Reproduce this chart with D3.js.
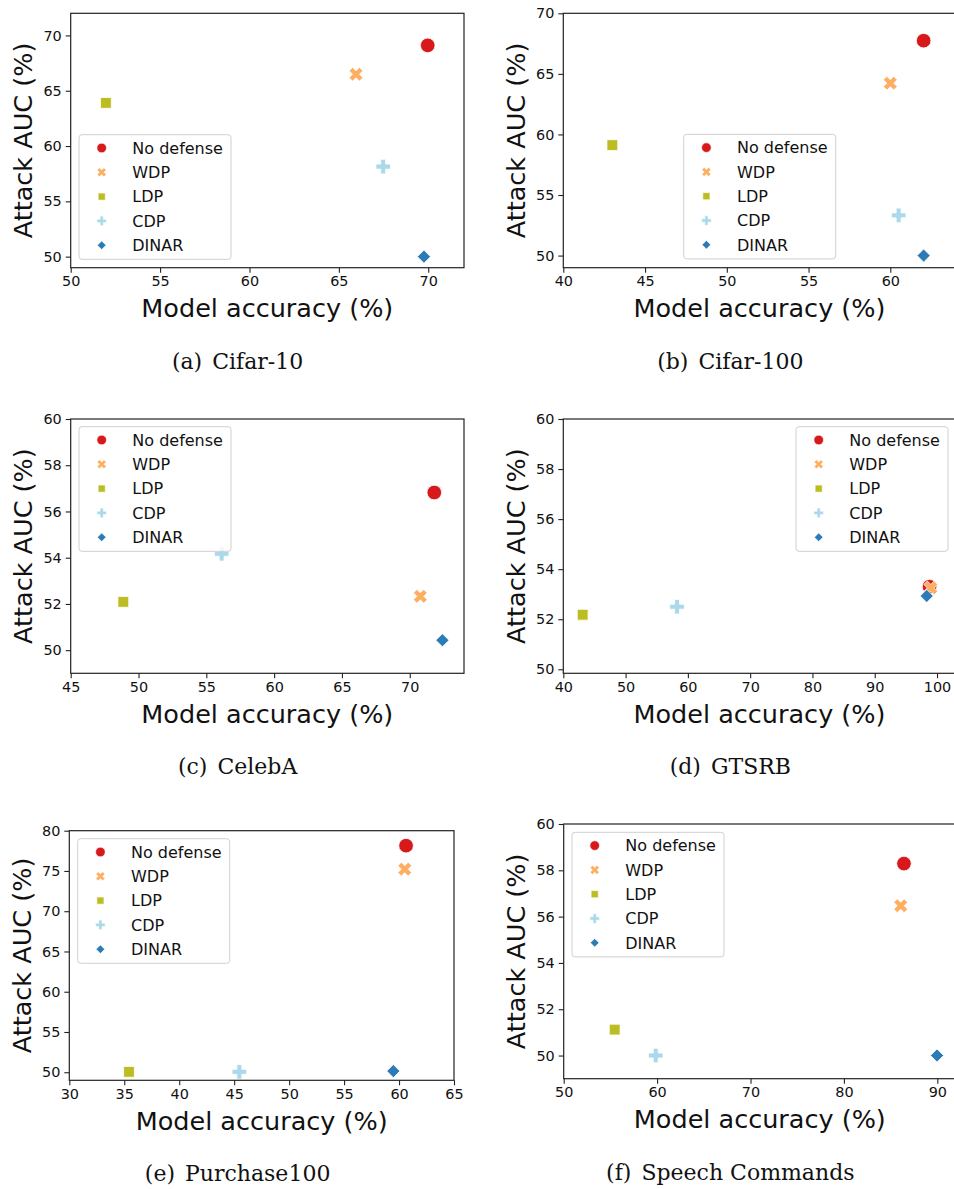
<!DOCTYPE html>
<html>
<head>
<meta charset="utf-8">
<script src="https://cdn.jsdelivr.net/npm/d3@7/dist/d3.min.js"></script>
<style>
  html, body { margin: 0; padding: 0; background: #fff; }
  svg { display: block; }
</style>
</head>
<body>
<svg id="chart" width="954" height="1189"></svg>
<script>
// ---------- data ----------
const methods = ["No defense", "WDP", "LDP", "CDP", "DINAR"];
const methodColors = ["#d7191c", "#fdae61", "#bcbd22", "#abd9e9", "#2c7bb6"];
const methodShapes = ["circle", "x", "square", "plus", "diamond"];

const captionTags = ["(a)", "(b)", "(c)", "(d)", "(e)", "(f)"];
const captionNames = ["Cifar-10", "Cifar-100", "CelebA", "GTSRB", "Purchase100", "Speech Commands"];

const cifar10Acc = [69.97, 65.96, 51.97, 67.48, 69.76];
const cifar10Auc = [69.1, 66.49, 63.9, 58.14, 50.0];
const cifar100Acc = [62.04, 60.0, 43.0, 60.51, 62.04];
const cifar100Auc = [67.74, 64.23, 59.12, 53.32, 50.0];
const celebaAcc = [71.81, 70.78, 48.88, 56.13, 72.41];
const celebaAuc = [56.82, 52.33, 52.09, 54.17, 50.43];
const gtsrbAcc = [98.8, 99.0, 43.11, 58.26, 98.35];
const gtsrbAuc = [53.3, 53.25, 52.18, 52.5, 52.93];
const purchaseAcc = [60.64, 60.52, 35.43, 45.47, 59.48];
const purchaseAuc = [78.14, 75.22, 50.05, 50.05, 50.14];
const speechAcc = [86.43, 86.08, 55.46, 59.85, 89.97];
const speechAuc = [58.29, 56.47, 51.12, 50.0, 50.0];

const xTicksA = [50, 55, 60, 65, 70];
const yTicksA = [50, 55, 60, 65, 70];
const xTicksB = [40, 45, 50, 55, 60];
const yTicksB = [50, 55, 60, 65, 70];
const xTicksC = [45, 50, 55, 60, 65, 70];
const yTicksC = [50, 52, 54, 56, 58, 60];
const xTicksD = [40, 50, 60, 70, 80, 90, 100];
const yTicksD = [50, 52, 54, 56, 58, 60];
const xTicksE = [30, 35, 40, 45, 50, 55, 60, 65];
const yTicksE = [50, 55, 60, 65, 70, 75, 80];
const xTicksF = [50, 60, 70, 80, 90];
const yTicksF = [50, 52, 54, 56, 58, 60];

const xDomains = [[50, 72], [40, 64], [45, 74], [40, 103], [30, 65], [50, 92]];
const yDomains = [[49, 72], [49, 70], [49, 60], [49.84, 60], [49, 80], [49, 60]];

// ---------- layout ----------
const panels = [
  { acc: cifar10Acc, auc: cifar10Auc, xt: xTicksA, yt: yTicksA, L: 70.7, T: 13.3, R: 464, B: 267.7, lx: 79, ly: 134.7, cx: 237.6, labR: 464 },
  { acc: cifar100Acc, auc: cifar100Auc, xt: xTicksB, yt: yTicksB, L: 563.3, T: 13.3, R: 955.7, B: 267.7, lx: 683.7, ly: 134.3, cx: 730.3, labR: 955.7 },
  { acc: celebaAcc, auc: celebaAuc, xt: xTicksC, yt: yTicksC, L: 70.7, T: 419, R: 464, B: 673.3, lx: 79, ly: 426.7, cx: 237.6, labR: 464 },
  { acc: gtsrbAcc, auc: gtsrbAuc, xt: xTicksD, yt: yTicksD, L: 563.3, T: 419, R: 955.7, B: 673.3, lx: 796, ly: 426.7, cx: 730.3, labR: 955.7 },
  { acc: purchaseAcc, auc: purchaseAuc, xt: xTicksE, yt: yTicksE, L: 69.3, T: 830.7, R: 454, B: 1080.3, lx: 77.7, ly: 838.7, cx: 237.6, labR: 454 },
  { acc: speechAcc, auc: speechAuc, xt: xTicksF, yt: yTicksF, L: 563.7, T: 824, R: 956, B: 1078.7, lx: 572, ly: 832.3, cx: 730.3, labR: 956 }
];

const svg = d3.select("#chart");
const SANS = "'DejaVu Sans', sans-serif";
const SERIF = "'DejaVu Serif', serif";

function shapePath(shape, s) {
  switch (shape) {
    case "circle":
      return d3.symbol().type(d3.symbolCircle).size(Math.PI * s * s)();
    case "square": {
      const h = s * 0.74;
      return `M${-h},${-h}L${h},${-h}L${h},${h}L${-h},${h}Z`;
    }
    case "diamond": {
      const h = s * 0.9;
      return `M0,${-h}L${h},0L0,${h}L${-h},0Z`;
    }
    case "plus":
    case "x": {
      const a = s * 1.0, w = s * 0.34;
      let pts = [[-w, -a], [w, -a], [w, -w], [a, -w], [a, w], [w, w], [w, a], [-w, a], [-w, w], [-a, w], [-a, -w], [-w, -w]];
      if (shape === "x") {
        const c = Math.SQRT1_2;
        pts = pts.map(([x, y]) => [(x - y) * c, (x + y) * c]);
      }
      return "M" + pts.map(p => p.join(",")).join("L") + "Z";
    }
  }
}

panels.forEach((p, i) => {
  const g = svg.append("g");
  const x = d3.scaleLinear().domain(xDomains[i]).range([p.L, p.R]);
  const y = d3.scaleLinear().domain(yDomains[i]).range([p.B, p.T]);

  const xAxis = d3.axisBottom(x).tickValues(p.xt).tickSize(5).tickPadding(3.5).tickFormat(d3.format("d"));
  const yAxis = d3.axisLeft(y).tickValues(p.yt).tickSize(5).tickPadding(4).tickFormat(d3.format("d"));
  const gx = g.append("g").attr("transform", `translate(0,${p.B})`).call(xAxis);
  const gy = g.append("g").attr("transform", `translate(${p.L},0)`).call(yAxis);
  [gx, gy].forEach(ax => {
    ax.select(".domain").remove();
    ax.selectAll(".tick line").attr("stroke", "#222").attr("stroke-width", 1.1);
    ax.selectAll(".tick text").attr("fill", "#111").style("font-family", SANS).style("font-size", "14.4px");
  });

  const clipId = "clip" + i;
  g.append("clipPath").attr("id", clipId).append("rect")
    .attr("x", p.L).attr("y", p.T - 10).attr("width", p.R - p.L).attr("height", p.B - p.T + 10);
  const pts = g.append("g").attr("clip-path", `url(#${clipId})`);
  methods.forEach((m, k) => {
    pts.append("path")
      .attr("d", shapePath(methodShapes[k], 7.3))
      .attr("transform", `translate(${x(p.acc[k])},${y(p.auc[k])})`)
      .attr("fill", methodColors[k])
      .attr("stroke", "#fff").attr("stroke-width", 0.8);
  });

  g.append("rect")
    .attr("x", p.L).attr("y", p.T).attr("width", p.R - p.L).attr("height", p.B - p.T)
    .attr("fill", "none").attr("stroke", "#222").attr("stroke-width", 1.2);

  const lg = g.append("g").attr("transform", `translate(${p.lx},${p.ly})`);
  lg.append("rect").attr("width", 152).attr("height", 124.6).attr("rx", 3).attr("ry", 3)
    .attr("fill", "#fff").attr("fill-opacity", 0.8).attr("stroke", "#d0d0d0").attr("stroke-width", 1);
  methods.forEach((m, k) => {
    const yy = 13.3 + k * 24.3;
    lg.append("path").attr("d", shapePath(methodShapes[k], 4.8))
      .attr("transform", `translate(22.7,${yy})`)
      .attr("fill", methodColors[k]).attr("stroke", "#fff").attr("stroke-width", 0.6);
    lg.append("text").attr("x", 53.3).attr("y", yy + 5.8).text(m)
      .attr("fill", "#111").style("font-family", SANS).style("font-size", "16px");
  });

  g.append("text").attr("x", (p.L + p.labR) / 2).attr("y", p.B + 49.3)
    .attr("text-anchor", "middle").text("Model accuracy (%)")
    .attr("fill", "#111").style("font-family", SANS).style("font-size", "25.5px");
  g.append("text")
    .attr("transform", `translate(${p.L - 38.4},${(p.T + p.B) / 2}) rotate(-90)`)
    .attr("text-anchor", "middle").text("Attack AUC (%)")
    .attr("fill", "#111").style("font-family", SANS).style("font-size", "25.5px");

  const cap = g.append("text").attr("x", p.cx).attr("y", p.B + 101)
    .attr("text-anchor", "middle")
    .attr("fill", "#111").style("font-family", SERIF).style("font-size", "22px");
  cap.append("tspan").text(captionTags[i]);
  cap.append("tspan").attr("dx", 10).text(captionNames[i]);
});
</script>
</body>
</html>
